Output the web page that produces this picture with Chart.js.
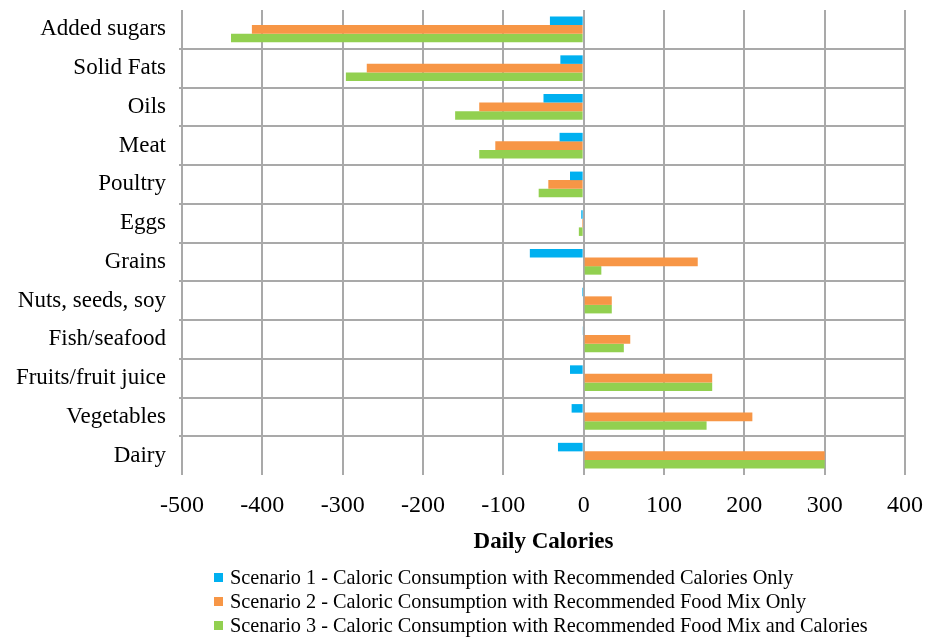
<!DOCTYPE html>
<html>
<head>
<meta charset="utf-8">
<script src="https://cdn.jsdelivr.net/npm/chart.js@4/dist/chart.umd.min.js"></script>
<style>
  html, body { margin: 0; padding: 0; background: #ffffff; }
  #wrap { position: relative; width: 935px; height: 638px; }
  #legend { position: absolute; left: 214px; top: 565px; font-family: "Liberation Serif", "Times New Roman", serif; font-size: 20.3px; color: #000; }
  .row { height: 24px; line-height: 24px; white-space: nowrap; display: flex; align-items: center; }
  .box { width: 9px; height: 9px; margin-right: 7px; display: inline-block; }
</style>
</head>
<body>
<div id="wrap">
  <canvas id="c" width="935" height="638"></canvas>
  <div id="legend"></div>
</div>
<script>
const categories = ["Added sugars", "Solid Fats", "Oils", "Meat", "Poultry", "Eggs", "Grains", "Nuts, seeds, soy", "Fish/seafood", "Fruits/fruit juice", "Vegetables", "Dairy"];
const seriesNames = [
  "Scenario 1 - Caloric Consumption with Recommended Calories Only",
  "Scenario 2 - Caloric Consumption with Recommended Food Mix Only",
  "Scenario 3 - Caloric Consumption with Recommended Food Mix and Calories"
];
const scenario1 = [-42, -29, -50, -30, -17, -3, -67, -2, -1, -17, -15, -32];
const scenario2 = [-413, -270, -130, -110, -44, -2, 142, 35, 58, 160, 210, 300];
const scenario3 = [-439, -296, -160, -130, -56, -6, 22, 35, 50, 160, 153, 300];
const xTicks = [-500, -400, -300, -200, -100, 0, 100, 200, 300, 400];
const colors = ["#00B0F0", "#F79646", "#92D050"];
const axisTitle = "Daily Calories";

const serif = "'Liberation Serif', 'Times New Roman', serif";
const grid = "#a9a9a9";

const chart = new Chart(document.getElementById('c'), {
  type: 'bar',
  data: {
    labels: categories,
    datasets: [scenario1, scenario2, scenario3].map((d, i) => ({
      label: seriesNames[i],
      data: d,
      backgroundColor: colors[i],
      borderWidth: 0,
      barPercentage: 1.0,
      categoryPercentage: 0.66
    }))
  },
  options: {
    indexAxis: 'y',
    responsive: false,
    animation: false,
    layout: { padding: { top: 10, right: 30, left: 0, bottom: 0 } },
    plugins: { legend: { display: false }, tooltip: { enabled: false } },
    scales: {
      x: {
        min: xTicks[0],
        max: xTicks[xTicks.length - 1],
        afterBuildTicks: (s) => { s.ticks = xTicks.map(v => ({ value: v })); },
        afterFit: (s) => { s.height = 163; s.paddingLeft = 0; s.paddingRight = 0; },
        border: { display: false },
        grid: { color: grid, lineWidth: 2, drawTicks: false },
        ticks: { color: '#000', font: { family: serif, size: 24 }, padding: 16, maxRotation: 0 },
        title: { display: true, text: axisTitle, color: '#000', font: { family: serif, size: 23, weight: 'bold' }, padding: { top: 0, bottom: 82 } }
      },
      y: {
        afterFit: (s) => { s.width = 182; s.paddingTop = 0; s.paddingBottom = 0; },
        border: { display: false },
        grid: {
          offset: true,
          lineWidth: 2,
          tickLength: 3,
          color: (c) => (c.type !== 'tick' || c.index === 0) ? 'rgba(0,0,0,0)' : grid
        },
        ticks: { color: '#000', font: { family: serif, size: 23 }, padding: 13, autoSkip: false }
      }
    }
  }
});

const legend = document.getElementById('legend');
chart.data.datasets.forEach(ds => {
  const row = document.createElement('div');
  row.className = 'row';
  const box = document.createElement('span');
  box.className = 'box';
  box.style.background = ds.backgroundColor;
  const txt = document.createElement('span');
  txt.textContent = ds.label;
  row.appendChild(box);
  row.appendChild(txt);
  legend.appendChild(row);
});
</script>
</body>
</html>
